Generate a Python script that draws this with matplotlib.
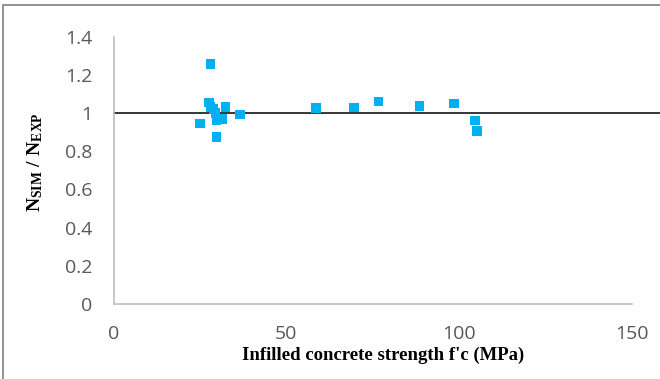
import matplotlib
matplotlib.use('Agg')
import matplotlib.pyplot as plt
from matplotlib.lines import Line2D

# donnees
fc = [25.1, 28.1, 27.7, 28.1, 28.9, 29.5, 32.5, 36.6, 29.9, 31.6, 29.9,
      58.6, 69.6, 76.7, 88.6, 98.6, 104.7, 105.3]
ratio = [0.944, 1.257, 1.055, 1.031, 1.022, 1.000, 1.031, 0.992, 0.961, 0.968, 0.874,
         1.027, 1.030, 1.062, 1.037, 1.049, 0.961, 0.905]
ref = 1.0
xticks = [0, 50, 100, 150]
yticks = [0, 0.2, 0.4, 0.6, 0.8, 1, 1.2, 1.4]
yticklabels = ['0', '0.2', '0.4', '0.6', '0.8', '1', '1.2', '1.4']

plt.rcParams['mathtext.fontset'] = 'custom'
plt.rcParams['mathtext.rm'] = 'Liberation Serif:bold'
plt.rcParams['mathtext.it'] = 'Liberation Serif:bold'
plt.rcParams['mathtext.bf'] = 'Liberation Serif:bold'

W, H = 660, 379
fig = plt.figure(figsize=(W / 100, H / 100), dpi=100)
ax = fig.add_axes([113.5 / W, 1 - 304 / H, (631.5 - 113.5) / W, (304 - 36.7) / H])

ax.scatter(fc, ratio, marker='s', s=46, color='#00B0F0', edgecolors='none', zorder=3)
ax.axhline(ref, xmin=0, xmax=(W - 113.5) / (631.5 - 113.5), color='black', lw=1.1,
           clip_on=False, zorder=2)

ax.set_xlim(0, 150)
ax.set_ylim(0, 1.4)
ax.set_xticks(xticks)
ax.set_yticks(yticks)
ax.set_yticklabels(yticklabels)
for s in ['top', 'right']:
    ax.spines[s].set_visible(False)
for s in ['left', 'bottom']:
    ax.spines[s].set_color('#BFBFBF')
    ax.spines[s].set_linewidth(1.2)
ax.tick_params(length=0, labelsize=14, labelcolor='#595959')
ax.tick_params(axis='x', pad=15)
ax.tick_params(axis='y', pad=15)
for lab in ax.get_xticklabels() + ax.get_yticklabels():
    lab.set_fontfamily('Open Sans')

fig.text(383 / W, 1 - 355 / H, "Infilled concrete strength f'c (MPa)",
         family='Liberation Serif', weight='bold', fontsize=13.5,
         ha='center', va='center')
fig.text(35 / W, 1 - 162 / H, r'$\mathrm{N_{SIM}\ /\ N_{EXP}}$', fontsize=14,
         rotation=90, ha='center', va='center')

# cadre de la page
fig.add_artist(Line2D([3 / W, 3 / W, 1], [0, 1 - 5 / H, 1 - 5 / H],
                      transform=fig.transFigure, color='#7F7F7F', lw=1.2))

fig.savefig('out.png', dpi=100)
